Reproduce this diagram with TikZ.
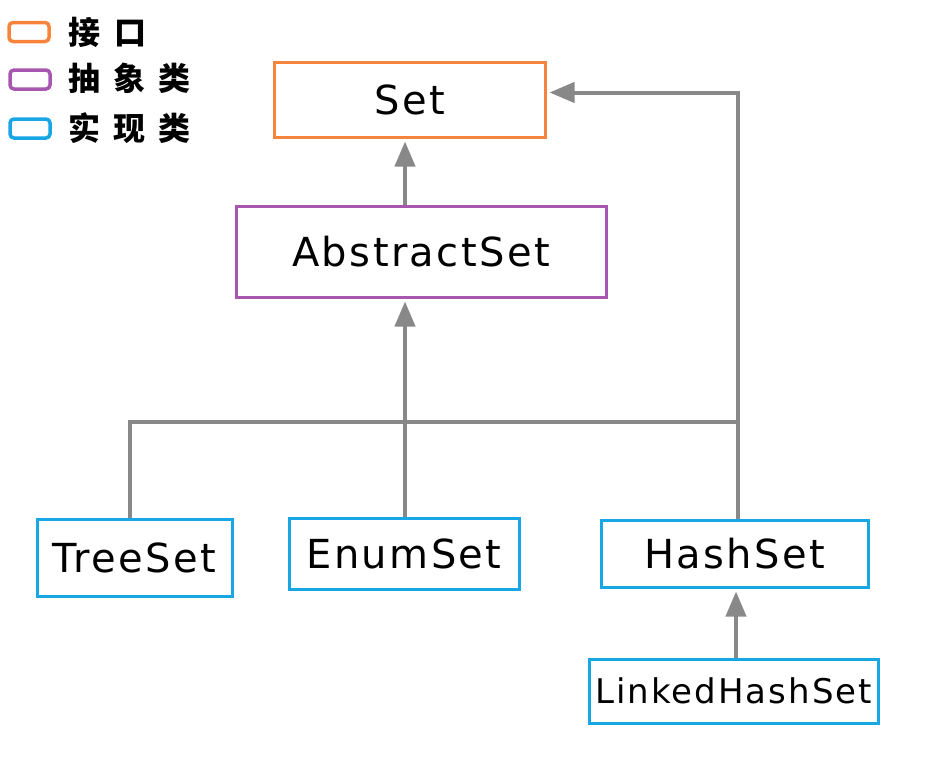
\documentclass[tikz,border=0pt]{standalone}
\usepackage{fontspec}
\setmainfont{DejaVu Sans}
\newfontfamily\lbl[LetterSpace=6]{DejaVu Sans}
\newfontfamily\cjk{Noto Sans CJK SC}
\usetikzlibrary{arrows.meta}
\definecolor{cif}{HTML}{F7843A}
\definecolor{cab}{HTML}{A857B0}
\definecolor{cim}{HTML}{18A6E4}
\definecolor{cln}{HTML}{888888}
\tikzset{
  cls/.style={draw, line width=3pt, inner sep=0pt, font=\lbl\fontsize{40}{40}\selectfont, text=black},
  iface/.style={cls, draw=cif},
  abst/.style={cls, draw=cab},
  impl/.style={cls, draw=cim},
  lgbox/.style={draw, line width=3.5pt, rounded corners=4pt, minimum width=40pt, minimum height=19pt, inner sep=0pt},
  lgtxt/.style={anchor=west, inner sep=0pt, font=\cjk\bfseries\fontsize{32}{32}\selectfont},
  conn/.style={draw=cln, line width=4pt},
  arr/.style={conn, shorten >=3pt, -{Triangle[length=25pt,width=20pt]}},
}
\begin{document}
\begin{tikzpicture}[x=1pt,y=-1pt]
\useasboundingbox (0,0) rectangle (940,766);
% legend
\node[lgbox, draw=cif] (l1) at (29,32) {};
\node[lgbox, draw=cab] (l2) at (30,79.5) {};
\node[lgbox, draw=cim] (l3) at (30,128.5) {};
\node[lgtxt] (t1) at (68,32) {接\hspace{14pt}口};
\node[lgtxt] (t2) at (68,78) {抽\hspace{13pt}象\hspace{13pt}类};
\node[lgtxt] (t3) at (68,128) {实\hspace{13pt}现\hspace{13pt}类};
% classes
\node[iface, minimum width=271pt, minimum height=75pt] (set) at (409.5,99.5) {Set};
\node[abst, minimum width=370pt, minimum height=91pt] (abs) at (421,251.5) {AbstractSet};
\node[impl, minimum width=195pt, minimum height=77pt] (tree) at (134.5,557.5) {TreeSet};
\node[impl, minimum width=230pt, minimum height=71pt] (enum) at (404,553.5) {EnumSet};
\node[impl, minimum width=267pt, minimum height=67pt] (hash) at (734.5,553.5) {HashSet};
\node[impl, minimum width=289pt, minimum height=64pt, font=\lbl\fontsize{34}{34}\selectfont] (lhs) at (733.5,691) {LinkedHashSet};
% connectors
\coordinate (bl) at (130,422);
\coordinate (br) at (738,422);
\coordinate (bm) at (405,422);
\draw[conn] (tree.north -| bl) -- (bl) -- (br);
\draw[arr] (enum.north -| bm) -- (abs.south -| bm);
\draw[arr] (abs.north -| bm) -- (set.south -| bm);
\draw[arr] (hash.north -| br) -- ([yshift=7pt]set.east -| br) -- ([yshift=7pt]set.east);
\draw[arr] (lhs.north -| 736,0) -- (hash.south -| 736,0);
\end{tikzpicture}
\end{document}
